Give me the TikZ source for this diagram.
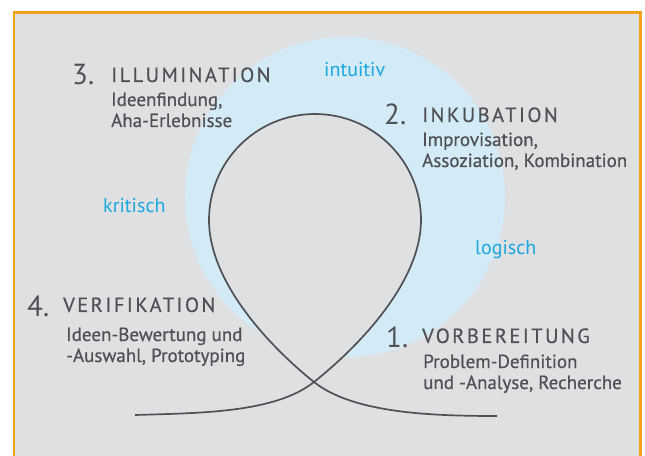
\documentclass[tikz,border=0pt]{standalone}
\usepackage{fontspec}
\setmainfont{PT Sans}
\newfontfamily\headfont[LetterSpace=12,FakeBold=0.4]{PT Sans}
\newfontfamily\notefont[FakeBold=0.6]{PT Sans}
\usetikzlibrary{positioning}
\definecolor{bggray}{HTML}{DFE0E2}
\definecolor{ringblue}{HTML}{D3EAF7}
\definecolor{framebar}{HTML}{F2A31B}
\definecolor{inkgray}{HTML}{505155}
\definecolor{wordblue}{HTML}{1AA7E0}

\begin{document}
\begin{tikzpicture}[x=1pt,y=1pt,
  num/.style={anchor=base west,inner sep=0pt,text=inkgray,font=\fontsize{29}{29}\selectfont},
  phase/.style={anchor=base west,inner sep=0pt,text=inkgray,font=\headfont\fontsize{20.5}{20.5}\selectfont},
  detail/.style={anchor=base west,inner sep=0pt,text=inkgray,align=left,font=\notefont\fontsize{19}{21}\selectfont},
  mode/.style={anchor=base west,inner sep=0pt,text=wordblue,font=\fontsize{20}{20}\selectfont}]
  % \draw (0, 0) grid (645, 455);
  \useasboundingbox (0,0) rectangle (645,455);
  \fill[white] (0,0) rectangle (645,455);
  \draw[framebar,line width=2.2pt,fill=bggray] (14,-20) rectangle (640.5,442.5);

  \fill[ringblue] (345,258) circle (160);

  \coordinate (tailL) at (135,40);
  \coordinate (tailR) at (497,39);
  \coordinate (cross) at (314,73);
  \coordinate (loopR) at (421,235);

  \fill[bggray] (cross) .. controls (353,104) and (421,170) .. (loopR)
    arc[start angle=0,end angle=180,radius=106]
    .. controls (209,170) and (275,104) .. (cross) -- cycle;
  \draw[inkgray,line width=1.7pt] (tailL) .. controls (200,42) and (275,42) .. (cross)
    .. controls (353,104) and (421,170) .. (loopR)
    arc[start angle=0,end angle=180,radius=106]
    .. controls (209,170) and (275,104) .. (cross)
    .. controls (353,42) and (430,39) .. (tailR);

  % base anchor sits on the last line
  \node[num] (num3) at (72,370) {3.};
  \node[phase] (head3) at (111,373) {ILLUMINATION};
  \node[detail] (text3) at (111,328) {Ideenfindung,\\Aha-Erlebnisse};

  \node[num] (num2) at (384,330) {2.};
  \node[phase] (head2) at (422,333) {INKUBATION};
  \node[detail] (text2) at (422,288) {Improvisation,\\Assoziation, Kombination};

  \node[num] (num4) at (27,138) {4.};
  \node[phase] (head4) at (63,143) {VERIFIKATION};
  \node[detail] (text4) at (66,93) {Ideen-Bewertung und\\-Auswahl, Prototyping};

  \node[num] (num1) at (386,107) {1.};
  \node[phase] (head1) at (422,112) {VORBEREITUNG};
  \node[detail] (text1) at (423,66) {Problem-Definition\\und -Analyse, Recherche};

  \node[mode] (intuitiv) at (324,378) {intuitiv};
  \node[mode] (kritisch) at (103,242) {kritisch};
  \node[mode] (logisch) at (475,200) {logisch};
\end{tikzpicture}
\end{document}
